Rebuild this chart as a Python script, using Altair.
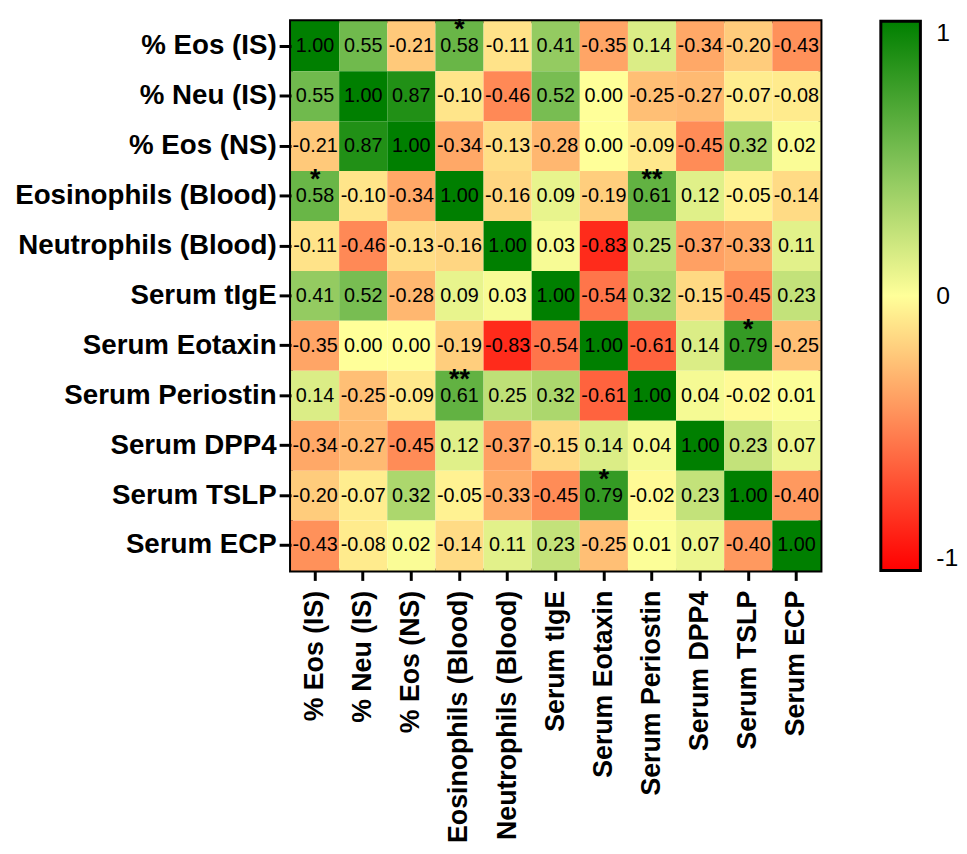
import altair as alt
import pandas as pd

labels = ["% Eos (IS)", "% Neu (IS)", "% Eos (NS)", "Eosinophils (Blood)",
          "Neutrophils (Blood)", "Serum tIgE", "Serum Eotaxin", "Serum Periostin",
          "Serum DPP4", "Serum TSLP", "Serum ECP"]

r_eos_is   = [1.00, 0.55, -0.21, 0.58, -0.11, 0.41, -0.35, 0.14, -0.34, -0.20, -0.43]
r_neu_is   = [0.55, 1.00, 0.87, -0.10, -0.46, 0.52, 0.00, -0.25, -0.27, -0.07, -0.08]
r_eos_ns   = [-0.21, 0.87, 1.00, -0.34, -0.13, -0.28, 0.00, -0.09, -0.45, 0.32, 0.02]
r_eos_bl   = [0.58, -0.10, -0.34, 1.00, -0.16, 0.09, -0.19, 0.61, 0.12, -0.05, -0.14]
r_neu_bl   = [-0.11, -0.46, -0.13, -0.16, 1.00, 0.03, -0.83, 0.25, -0.37, -0.33, 0.11]
r_tige     = [0.41, 0.52, -0.28, 0.09, 0.03, 1.00, -0.54, 0.32, -0.15, -0.45, 0.23]
r_eotaxin  = [-0.35, 0.00, 0.00, -0.19, -0.83, -0.54, 1.00, -0.61, 0.14, 0.79, -0.25]
r_periost  = [0.14, -0.25, -0.09, 0.61, 0.25, 0.32, -0.61, 1.00, 0.04, -0.02, 0.01]
r_dpp4     = [-0.34, -0.27, -0.45, 0.12, -0.37, -0.15, 0.14, 0.04, 1.00, 0.23, 0.07]
r_tslp     = [-0.20, -0.07, 0.32, -0.05, -0.33, -0.45, 0.79, -0.02, 0.23, 1.00, -0.40]
r_ecp      = [-0.43, -0.08, 0.02, -0.14, 0.11, 0.23, -0.25, 0.01, 0.07, -0.40, 1.00]

rows = [r_eos_is, r_neu_is, r_eos_ns, r_eos_bl, r_neu_bl, r_tige,
        r_eotaxin, r_periost, r_dpp4, r_tslp, r_ecp]

star_rows = ["% Eos (IS)", "Eosinophils (Blood)", "Eosinophils (Blood)",
             "Serum Eotaxin", "Serum Periostin", "Serum TSLP"]
star_cols = ["Eosinophils (Blood)", "% Eos (IS)", "Serum Periostin",
             "Serum TSLP", "Eosinophils (Blood)", "Serum Eotaxin"]
star_marks = ["*", "*", "**", "*", "**", "*"]

color_domain = [-1, -0.5, 0, 0.5, 1]
color_range = ["#FF0000", "#FF7F50", "#FFFF99", "#7DC055", "#007F00"]
legend_values = [-1, 0, 1]

records = []
for rname, vals in zip(labels, rows):
    for cname, v in zip(labels, vals):
        records.append({"row": rname, "col": cname, "r": v, "txt": f"{v:.2f}"})
df = pd.DataFrame(records)
stars = pd.DataFrame({"row": star_rows, "col": star_cols, "mark": star_marks})

FONT = "Liberation Sans"
W, H = 535, 555
LEG_X, LEG_W = 596, 40

x_enc = alt.X("col:N", sort=labels, title=None,
              scale=alt.Scale(paddingInner=0, paddingOuter=0),
              axis=alt.Axis(labelAngle=-90, labelFontSize=27, labelFontWeight="bold",
                            labelFont=FONT, labelColor="black", domain=False, labelLimit=0,
                            tickColor="black", tickWidth=3, tickSize=10, labelPadding=10))
y_enc = alt.Y("row:N", sort=labels, title=None,
              scale=alt.Scale(paddingInner=0, paddingOuter=0),
              axis=alt.Axis(labelFontSize=28, labelFontWeight="bold", labelFont=FONT,
                            labelColor="black", domain=False, tickColor="black", labelLimit=0,
                            tickWidth=3, tickSize=12, labelPadding=3))

heat = alt.Chart(df).mark_rect().encode(
    x=x_enc, y=y_enc,
    color=alt.Color("r:Q",
                    scale=alt.Scale(domain=color_domain, range=color_range, interpolate="rgb"),
                    legend=alt.Legend(title=None, orient="none", legendX=LEG_X, legendY=0,
                                      direction="vertical", gradientLength=H,
                                      gradientThickness=LEG_W, gradientStrokeColor="black",
                                      gradientStrokeWidth=3, values=legend_values,
                                      labelFontSize=25, labelFont=FONT, labelColor="black",
                                      labelOffset=16,
                                      labelExpr="datum.value < 0 ? '-' + format(-datum.value, 'd') : format(datum.value, 'd')")),
)

text = alt.Chart(df).mark_text(font=FONT, fontSize=20, color="black").encode(
    x=alt.X("col:N", sort=labels), y=alt.Y("row:N", sort=labels), text="txt:N")

star_layer = alt.Chart(stars).mark_text(font=FONT, fontSize=27, fontWeight="bold",
                                        color="black", dy=-16).encode(
    x=alt.X("col:N", sort=labels), y=alt.Y("row:N", sort=labels), text="mark:N")

# small tick marks at 0 on both inner edges of the colour bar
bar_tick_l = alt.Chart(pd.DataFrame({"v": [0]})).mark_rule(color="black", strokeWidth=3).encode(
    x=alt.value(LEG_X + 1), x2=alt.value(LEG_X + 8), y=alt.value(H / 2))
bar_tick_r = alt.Chart(pd.DataFrame({"v": [0]})).mark_rule(color="black", strokeWidth=3).encode(
    x=alt.value(LEG_X + LEG_W - 8), x2=alt.value(LEG_X + LEG_W - 1), y=alt.value(H / 2))

chart = alt.layer(heat, text, star_layer, bar_tick_l, bar_tick_r).properties(
    width=W, height=H,
    padding={"left": 6, "top": 4, "right": 0, "bottom": 0},
).configure_view(stroke="black", strokeWidth=4)

chart.save("out.html", embed_options={"renderer": "svg", "actions": False})
